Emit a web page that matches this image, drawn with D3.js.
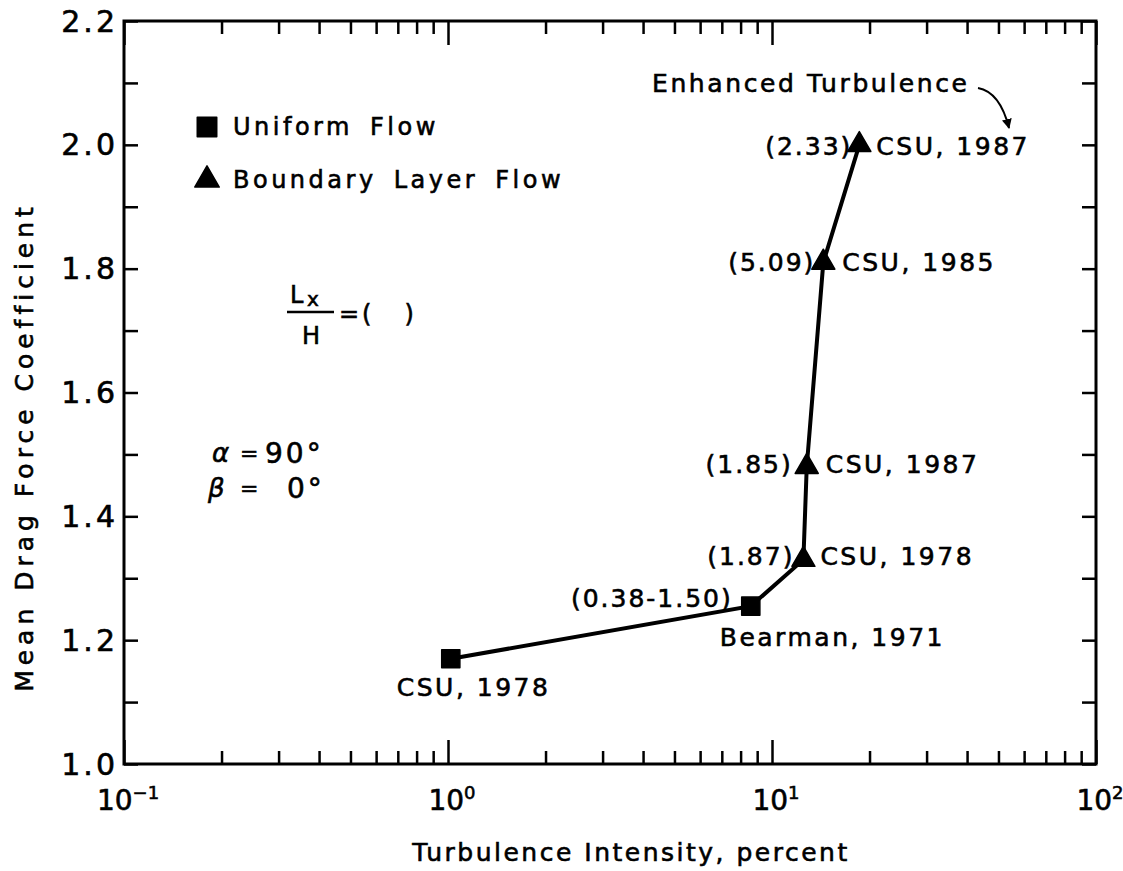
<!DOCTYPE html>
<html>
<head>
<meta charset="utf-8">
<script src="https://cdn.jsdelivr.net/npm/d3@7"></script>
<style>
  html, body { margin: 0; padding: 0; background: #fff; }
  svg { display: block; }
  text { font-family: "DejaVu Sans", sans-serif; fill: #000; stroke: #000; stroke-width: 0.6px; }
</style>
</head>
<body>
<svg id="chart" width="1123" height="871"></svg>
<script>
// Mean drag force coefficient versus turbulence intensity
const intensity   = [1.02, 8.6, 12.5, 12.8, 14.4, 18.6];          // percent
const dragCoef    = [1.17, 1.255, 1.33, 1.48, 1.81, 2.00];
const flowType    = ["Uniform Flow", "Uniform Flow", "Boundary Layer Flow",
                     "Boundary Layer Flow", "Boundary Layer Flow", "Boundary Layer Flow"];
const sources     = ["CSU, 1978", "Bearman, 1971", "CSU, 1978", "CSU, 1987", "CSU, 1985", "CSU, 1987"];
const scaleRatios = ["", "(0.38-1.50)", "(1.87)", "(1.85)", "(5.09)", "(2.33)"];
const legendItems = ["Uniform Flow", "Boundary Layer Flow"];
const yTickValues = [1.0, 1.2, 1.4, 1.6, 1.8, 2.0, 2.2];
const yTickLabels = ["1.0", "1.2", "1.4", "1.6", "1.8", "2.0", "2.2"];
const xDecades    = [0.1, 1, 10, 100];
const xExponents  = ["-1", "0", "1", "2"];

const svg = d3.select("#chart");
const plotL = 124, plotR = 1096, plotT = 21, plotB = 764;

const x = d3.scaleLog().domain([0.1, 100]).range([plotL, plotR]);
const y = d3.scaleLinear().domain([1.0, 2.2]).range([plotB, plotT]);

// label placement around each point: [ratio dx, ratio dy, source dx, source dy]
const labelLayout = [
  [0, 0, -54, 29],
  [-18, -8, -31, 31],
  [-9, -3, 17, -3],
  [-14, -2, 19, -2],
  [-8, 0, 19, 0],
  [-7, 2, 17, 2]
];

const g = svg.append("g");

// ---- ticks (all drawn inward) ----
const minorX = [];
[0.1, 1, 10].forEach(d => { for (let k = 2; k <= 9; k++) minorX.push(d * k); });

const bottomAxis = d3.axisBottom(x).tickValues(minorX).tickSize(-13).tickFormat("");
const bottomMajor = d3.axisBottom(x).tickValues(xDecades).tickSize(-24).tickFormat("");
const topAxis = d3.axisTop(x).tickValues(minorX).tickSize(-13).tickFormat("");
const topMajor = d3.axisTop(x).tickValues(xDecades).tickSize(-24).tickFormat("");
const yMinor = d3.range(1.0, 2.21, 0.1);
const leftAxis = d3.axisLeft(y).tickValues(yMinor).tickSize(-14).tickFormat("");
const rightAxis = d3.axisRight(y).tickValues(yMinor).tickSize(-14).tickFormat("");

function styleAxis(sel) {
  sel.select(".domain").remove();
  sel.selectAll(".tick line").attr("stroke", "#000").attr("stroke-width", 2.5);
}
g.append("g").attr("transform", `translate(0,${plotB})`).call(bottomAxis).call(styleAxis);
g.append("g").attr("transform", `translate(0,${plotB})`).call(bottomMajor).call(styleAxis);
g.append("g").attr("transform", `translate(0,${plotT})`).call(topAxis).call(styleAxis);
g.append("g").attr("transform", `translate(0,${plotT})`).call(topMajor).call(styleAxis);
g.append("g").attr("transform", `translate(${plotL},0)`).call(leftAxis).call(styleAxis);
g.append("g").attr("transform", `translate(${plotR},0)`).call(rightAxis).call(styleAxis);

// frame
g.append("rect")
  .attr("x", plotL).attr("y", plotT)
  .attr("width", plotR - plotL).attr("height", plotB - plotT)
  .attr("fill", "none").attr("stroke", "#000").attr("stroke-width", 3);

// ---- tick labels ----
g.selectAll(".ylab").data(yTickValues).enter().append("text")
  .attr("class", "ylab")
  .attr("x", plotL - 6)
  .attr("y", d => y(d))
  .attr("text-anchor", "end")
  .attr("dominant-baseline", "central")
  .attr("font-size", 30)
  .attr("letter-spacing", 3)
  .text((d, i) => yTickLabels[i]);

const xl = g.selectAll(".xlab").data(xDecades).enter().append("text")
  .attr("class", "xlab")
  .attr("x", d => x(d) + 4)
  .attr("y", plotB + 46)
  .attr("text-anchor", "middle")
  .attr("font-size", 28);
xl.append("tspan").text("10");
xl.append("tspan").attr("dy", -11).attr("font-size", 18).text((d, i) => xExponents[i].replace("-", "\u2212"));

// ---- axis titles ----
svg.append("text")
  .attr("x", 631)
  .attr("y", 852)
  .attr("text-anchor", "middle")
  .attr("dominant-baseline", "central")
  .attr("font-size", 25)
  .attr("letter-spacing", 2.5)
  .text("Turbulence Intensity, percent");

svg.append("text")
  .attr("transform", `translate(24,447) rotate(-90)`)
  .attr("text-anchor", "middle")
  .attr("dominant-baseline", "central")
  .attr("font-size", 25)
  .attr("letter-spacing", 5)
  .text("Mean Drag Force Coefficient");

// ---- data ----
const pts = intensity.map((v, i) => ({ x: v, y: dragCoef[i], type: flowType[i], src: sources[i], ratio: scaleRatios[i], lay: labelLayout[i] }));

g.append("path")
  .datum(pts)
  .attr("fill", "none").attr("stroke", "#000").attr("stroke-width", 4)
  .attr("d", d3.line().x(d => x(d.x)).y(d => y(d.y)));

const squareSym = d3.symbol().type(d3.symbolSquare).size(330);
const triSym = d3.symbol().type(d3.symbolTriangle).size(230);

g.selectAll(".pt").data(pts).enter().append("path")
  .attr("class", "pt")
  .attr("transform", d => `translate(${x(d.x)},${y(d.y)})`)
  .attr("d", d => d.type === "Uniform Flow" ? squareSym() : triSym())
  .attr("fill", "#000")
  .attr("stroke", "#000").attr("stroke-width", 1.5).attr("stroke-linejoin", "round");

g.selectAll(".src").data(pts).enter().append("text")
  .attr("class", "src")
  .attr("x", d => x(d.x) + d.lay[2])
  .attr("y", d => y(d.y) + d.lay[3])
  .attr("dominant-baseline", "central")
  .attr("font-size", 25)
  .attr("letter-spacing", 2.5)
  .text(d => d.src);

g.selectAll(".ratio").data(pts.filter(d => d.ratio)).enter().append("text")
  .attr("class", "ratio")
  .attr("x", d => x(d.x) + d.lay[0])
  .attr("y", d => y(d.y) + d.lay[1])
  .attr("text-anchor", "end")
  .attr("dominant-baseline", "central")
  .attr("font-size", 25)
  .attr("letter-spacing", 2)
  .text(d => d.ratio);

// ---- legend ----
const legend = g.append("g");
legendItems.forEach((name, i) => {
  const cy = 127 + i * 53;
  legend.append("path")
    .attr("transform", `translate(207,${cy})`)
    .attr("d", i === 0 ? d3.symbol().type(d3.symbolSquare).size(380)() : d3.symbol().type(d3.symbolTriangle).size(260)())
    .attr("fill", "#000").attr("stroke", "#000").attr("stroke-width", 1.5).attr("stroke-linejoin", "round");
  legend.append("text")
    .attr("x", 233).attr("y", cy)
    .attr("dominant-baseline", "central")
    .attr("font-size", 24)
    .attr("letter-spacing", 3.5)
    .attr("word-spacing", 6)
    .text(name);
});

// ---- annotation: length-scale ratio ----
const ann = g.append("g").attr("font-size", 24);
ann.append("text").attr("x", 290).attr("y", 303).attr("font-size", 24).text("L");
ann.append("text").attr("x", 307).attr("y", 306).attr("font-size", 20).text("x");
ann.append("line").attr("x1", 287).attr("x2", 334).attr("y1", 312).attr("y2", 312)
  .attr("stroke", "#000").attr("stroke-width", 2.5);
ann.append("text").attr("x", 302).attr("y", 344).attr("font-size", 24).text("H");
ann.append("text").attr("x", 339).attr("y", 322).attr("font-size", 24).attr("letter-spacing", 3).text("=(\u2002\u2002)");

// ---- annotation: flow angles ----
ann.append("text").attr("x", 212).attr("y", 462).attr("font-size", 26).attr("font-style", "italic").text("\u03b1");
ann.append("text").attr("x", 240).attr("y", 461).attr("font-size", 22).text("=");
ann.append("text").attr("x", 265).attr("y", 463).attr("font-size", 28).attr("letter-spacing", 3).text("90\u00b0");
ann.append("text").attr("x", 208).attr("y", 497).attr("font-size", 26).attr("font-style", "italic").text("\u03b2");
ann.append("text").attr("x", 240).attr("y", 496).attr("font-size", 22).text("=");
ann.append("text").attr("x", 287).attr("y", 498).attr("font-size", 28).attr("letter-spacing", 3).text("0\u00b0");

// ---- annotation: enhanced turbulence ----
svg.append("defs").append("marker")
  .attr("id", "head").attr("viewBox", "0 0 10 10")
  .attr("refX", 9).attr("refY", 5)
  .attr("markerWidth", 5).attr("markerHeight", 5)
  .attr("orient", "auto")
  .append("path").attr("d", "M0,0 L10,5 L0,10 Z").attr("fill", "#000");

ann.append("text").attr("x", 652).attr("y", 83)
  .attr("dominant-baseline", "central")
  .attr("font-size", 25).attr("letter-spacing", 2.6)
  .text("Enhanced Turbulence");
ann.append("path")
  .attr("d", "M978,88 Q1000,92 1009,128")
  .attr("fill", "none").attr("stroke", "#000").attr("stroke-width", 2)
  .attr("marker-end", "url(#head)");
</script>
</body>
</html>
